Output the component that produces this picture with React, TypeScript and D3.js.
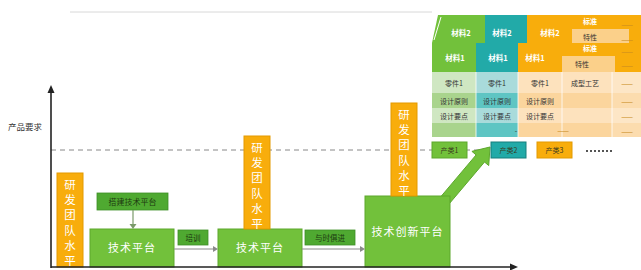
import React from 'react';
import * as d3 from 'd3';

// ---- data ----
const yAxisLabel = '产品要求';
const teamLabel = '研发团队水平';
const stageLabels = ['技术平台', '技术平台', '技术创新平台'];
const platformLevel = [38, 38, 71]; // height of each platform block
const teamLevel = [94, 93, 93]; // team bar stacked on the platform
const requirementLevel = 117;
const buildLabel = '搭建技术平台';
const stepLabels = ['培训', '与时俱进'];
const productLabels = ['产类1', '产类2', '产类3'];
const materialLabels = ['材料1', '材料2'];
const partRows = ['零件1', '设计原则', '设计要点', ''];
const extraCol = ['成型工艺', '', '', ''];
const standardLabels = ['标准', '特性'];

const W = 641;
const H = 270;
const FONT = '"Noto Sans CJK SC", "Noto Sans", sans-serif';

const ORANGE = '#f8ad0c';
const ORANGE_D = '#e39a00';
const GREEN = '#72c13b';
const GREEN_D = '#5ca72c';
const LABEL_G = '#4fa931';
const TEAL = '#22aaa8';

const App = () => {
  const axisX = 51;
  const y = d3.scaleLinear().domain([0, 180]).range([267, 87]);
  const x = d3.scaleLinear().domain([0, 464]).range([axisX, 515]);

  // stage layout (x in axis units)
  const barX = [6, 193, 340];
  const barW = 26;
  const boxX = [39, 167, 314];
  const boxW = [84, 84, 85];

  const vertText = (label: string, cx: number, top: number, step: number) =>
    label.split('').map((c, i) => (
      <text key={i} x={cx} y={top + i * step} fill="#fff" fontSize={11.5}
        textAnchor="middle" fontFamily={FONT}>{c}</text>
    ));

  // big arrow geometry
  const arrowPts = (() => {
    const sx = 441, sy = 205, ex = 490, ey = 147;
    const dx = ex - sx, dy = ey - sy;
    const len = Math.hypot(dx, dy);
    const ux = dx / len, uy = dy / len;
    const nx = -uy, ny = ux;
    const hl = 15, sw = 5.5, hw = 11;
    const bx = ex - ux * hl, by = ey - uy * hl;
    const p = [
      [sx + nx * sw, sy + ny * sw],
      [bx + nx * sw, by + ny * sw],
      [bx + nx * hw, by + ny * hw],
      [ex, ey],
      [bx - nx * hw, by - ny * hw],
      [bx - nx * sw, by - ny * sw],
      [sx - nx * sw, sy - ny * sw],
    ];
    return p.map(q => q.join(',')).join(' ');
  })();

  // top-right material stacks
  const cols = [
    { x0: 432, x1: 476, head: GREEN, light: '#cfe7c2', dark: '#a9d48d' },
    { x0: 476, x1: 518, head: TEAL, light: '#a9dbdb', dark: '#5ec5c3' },
    { x0: 518, x1: 562, head: ORANGE, light: '#fde2bd', dark: '#fbd59d' },
  ];
  const rowY = [72, 93, 108, 123, 137];

  return (
    <svg width={W} height={H} style={{ position: 'absolute', left: 0, top: 0, background: '#fff' }}>
      {/* faint top line */}
      <line x1={70} x2={432} y1={12} y2={12} stroke="#d8d8d8" strokeWidth={1} />

      {/* axis label */}
      <text x={8} y={130} fontSize={8.5} fill="#333" fontFamily={FONT}>{yAxisLabel}</text>

      {/* requirement dashed line */}
      <line x1={axisX} x2={491} y1={y(requirementLevel)} y2={y(requirementLevel)}
        stroke="#888" strokeWidth={1} strokeDasharray="5,4" />

      {/* big arrow to products */}
      <polygon points={arrowPts} fill={GREEN} stroke={GREEN_D} strokeWidth={1} />

      {/* platforms */}
      {stageLabels.map((s, i) => (
        <g key={'p' + i}>
          <rect x={x(boxX[i])} y={y(platformLevel[i])} width={boxW[i]}
            height={y(0) - y(platformLevel[i])} fill={GREEN} stroke={GREEN_D} strokeWidth={1} />
          <text x={x(boxX[i]) + boxW[i] / 2}
            y={i === 2 ? y(platformLevel[i]) + 40 : (y(platformLevel[i]) + y(0)) / 2 + 4}
            fill="#fff" fontSize={11} textAnchor="middle" fontFamily={FONT}
            letterSpacing={1}>{s}</text>
        </g>
      ))}

      {/* team level bars */}
      {teamLevel.map((t, i) => {
        const base = i === 0 ? 0 : platformLevel[i];
        const top = y(base + t);
        return (
          <g key={'t' + i}>
            <rect x={x(barX[i])} y={top} width={barW} height={y(base) - top}
              fill={ORANGE} stroke={ORANGE_D} strokeWidth={1} />
            {vertText(teamLabel, x(barX[i]) + barW / 2, top + 16, 15.2)}
          </g>
        );
      })}

      {/* build label with down arrow */}
      <rect x={97} y={193} width={71} height={17} fill={LABEL_G} stroke="#3e8f26" strokeWidth={0.8} />
      <text x={132.5} y={205} fontSize={8} textAnchor="middle" fill="#1d3a10" fontFamily={FONT}>{buildLabel}</text>
      <line x1={133} x2={133} y1={210} y2={226} stroke="#7a9a6a" strokeWidth={1.2} />
      <polygon points="129.5,224 136.5,224 133,229" fill="#7a9a6a" />

      {/* transitions */}
      {stepLabels.map((s, i) => {
        const from = x(boxX[i]) + boxW[i];
        const to = x(boxX[i + 1]);
        const lw = i === 0 ? 30 : 50;
        const lx = i === 0 ? 178 : 305;
        return (
          <g key={'s' + i}>
            <rect x={lx} y={230} width={lw} height={15} fill={LABEL_G} stroke="#3e8f26" strokeWidth={0.8} />
            <text x={lx + lw / 2} y={241} fontSize={7.5} textAnchor="middle" fill="#1d3a10" fontFamily={FONT}>{s}</text>
            <line x1={from} x2={to - 4} y1={249} y2={249} stroke="#8a8a8a" strokeWidth={1} />
            <polygon points={`${to - 5},246 ${to},249 ${to - 5},252`} fill="#8a8a8a" />
          </g>
        );
      })}

      {/* axes */}
      <line x1={axisX} x2={axisX} y1={268} y2={91} stroke="#222" strokeWidth={1.6} />
      <polygon points={`${axisX - 3.5},93 ${axisX},85 ${axisX + 3.5},93`} fill="#222" />
      <line x1={axisX} x2={512} y1={267} y2={267} stroke="#222" strokeWidth={1.6} />
      <polygon points="510,263.5 518,267 510,270.5" fill="#222" />

      {/* products */}
      {productLabels.map((p, i) => {
        const px = [432, 491, 537][i];
        const fills = [GREEN, TEAL, ORANGE];
        const strokes = [GREEN_D, '#177f7d', ORANGE_D];
        return (
          <g key={'pr' + i}>
            <rect x={px} y={142} width={35} height={16} fill={fills[i]} stroke={strokes[i]} strokeWidth={1} />
            <text x={px + 17.5} y={153} fontSize={7} textAnchor="middle" fill="#3a3a20" fontFamily={FONT}>{p}</text>
          </g>
        );
      })}
      <line x1={586} x2={612} y1={151} y2={151} stroke="#555" strokeWidth={2} strokeDasharray="2,2" />

      {/* material stacks: back layer (材料2) */}
      <polygon points="438,15 485,15 485,43 432,43" fill={GREEN} />
      <line x1={434} x2={441} y1={40} y2={17} stroke="#fff" strokeWidth={1} />
      <rect x={485} y={15} width={42} height={28} fill={TEAL} />
      <rect x={527} y={15} width={114} height={28} fill={ORANGE} />
      {[461, 502, 550].map((tx, i) => (
        <text key={'m2' + i} x={tx} y={36} fontSize={7.5} fill="#fff" fontWeight="bold"
          textAnchor="middle" fontFamily={FONT}>{materialLabels[1]}</text>
      ))}
      <text x={590} y={24} fontSize={7} fill="#fff" fontWeight="bold" textAnchor="middle" fontFamily={FONT}>{standardLabels[0]}</text>
      <rect x={572} y={29} width={57} height={15} fill="#fbd08a" />
      <text x={590} y={40} fontSize={7} fill="#333" textAnchor="middle" fontFamily={FONT}>{standardLabels[1]}</text>
      <text x={627} y={27} fontSize={7} fill="#c98a20" textAnchor="middle" fontFamily={FONT}>——</text>
      <text x={627} y={42} fontSize={7} fill="#c98a20" textAnchor="middle" fontFamily={FONT}>——</text>

      {/* front layer (材料1) headers */}
      {cols.map((c, i) => (
        <rect key={'h' + i} x={c.x0} y={43} width={i === 2 ? 641 - c.x0 : c.x1 - c.x0} height={29} fill={c.head} />
      ))}
      {[455, 498, 535].map((tx, i) => (
        <text key={'m1' + i} x={tx} y={61} fontSize={7.5} fill="#fff" fontWeight="bold"
          textAnchor="middle" fontFamily={FONT}>{materialLabels[0]}</text>
      ))}
      <text x={590} y={51} fontSize={7} fill="#fff" fontWeight="bold" textAnchor="middle" fontFamily={FONT}>{standardLabels[0]}</text>
      <rect x={562} y={56} width={53} height={16} fill="#fbd08a" />
      <text x={582} y={67} fontSize={7} fill="#333" textAnchor="middle" fontFamily={FONT}>{standardLabels[1]}</text>
      <text x={627} y={54} fontSize={7} fill="#c98a20" textAnchor="middle" fontFamily={FONT}>——</text>
      <text x={627} y={68} fontSize={7} fill="#c98a20" textAnchor="middle" fontFamily={FONT}>——</text>

      {/* part rows */}
      {partRows.map((r, ri) => (
        <g key={'r' + ri}>
          {cols.map((c, ci) => (
            <g key={ci}>
              <rect x={c.x0} y={rowY[ri]} width={c.x1 - c.x0} height={rowY[ri + 1] - rowY[ri]}
                fill={ri % 2 === 0 ? c.light : c.dark} />
              {r && (
                <text x={(c.x0 + c.x1) / 2} y={rowY[ri] + (ri === 0 ? 14 : 11)} fontSize={7}
                  fill="#333" textAnchor="middle" fontFamily={FONT}>{r}</text>
              )}
            </g>
          ))}
          <rect x={562} y={rowY[ri]} width={50} height={rowY[ri + 1] - rowY[ri]}
            fill={ri % 2 === 0 ? '#fde2bd' : '#fbd59d'} />
          <rect x={612} y={rowY[ri]} width={29} height={rowY[ri + 1] - rowY[ri]}
            fill={ri % 2 === 0 ? '#fde6c6' : '#fcdcae'} />
          {extraCol[ri] && (
            <text x={585} y={rowY[ri] + 14} fontSize={7} fill="#333" textAnchor="middle" fontFamily={FONT}>{extraCol[ri]}</text>
          )}
          <text x={627} y={rowY[ri] + (ri === 0 ? 14 : 11)} fontSize={7} fill="#c98a20"
            textAnchor="middle" fontFamily={FONT}>——</text>
        </g>
      ))}
      {/* column separators */}
      {[476, 518, 562, 612].map(sx => (
        <line key={'sep' + sx} x1={sx} x2={sx} y1={72} y2={137} stroke="#fff" strokeWidth={0.8} />
      ))}
      <text x={516} y={133} fontSize={7} fill="#333" textAnchor="middle" fontFamily={FONT}>-</text>
      <text x={563} y={133} fontSize={7} fill="#c98a20" textAnchor="middle" fontFamily={FONT}>——</text>
    </svg>
  );
};

export default App;
